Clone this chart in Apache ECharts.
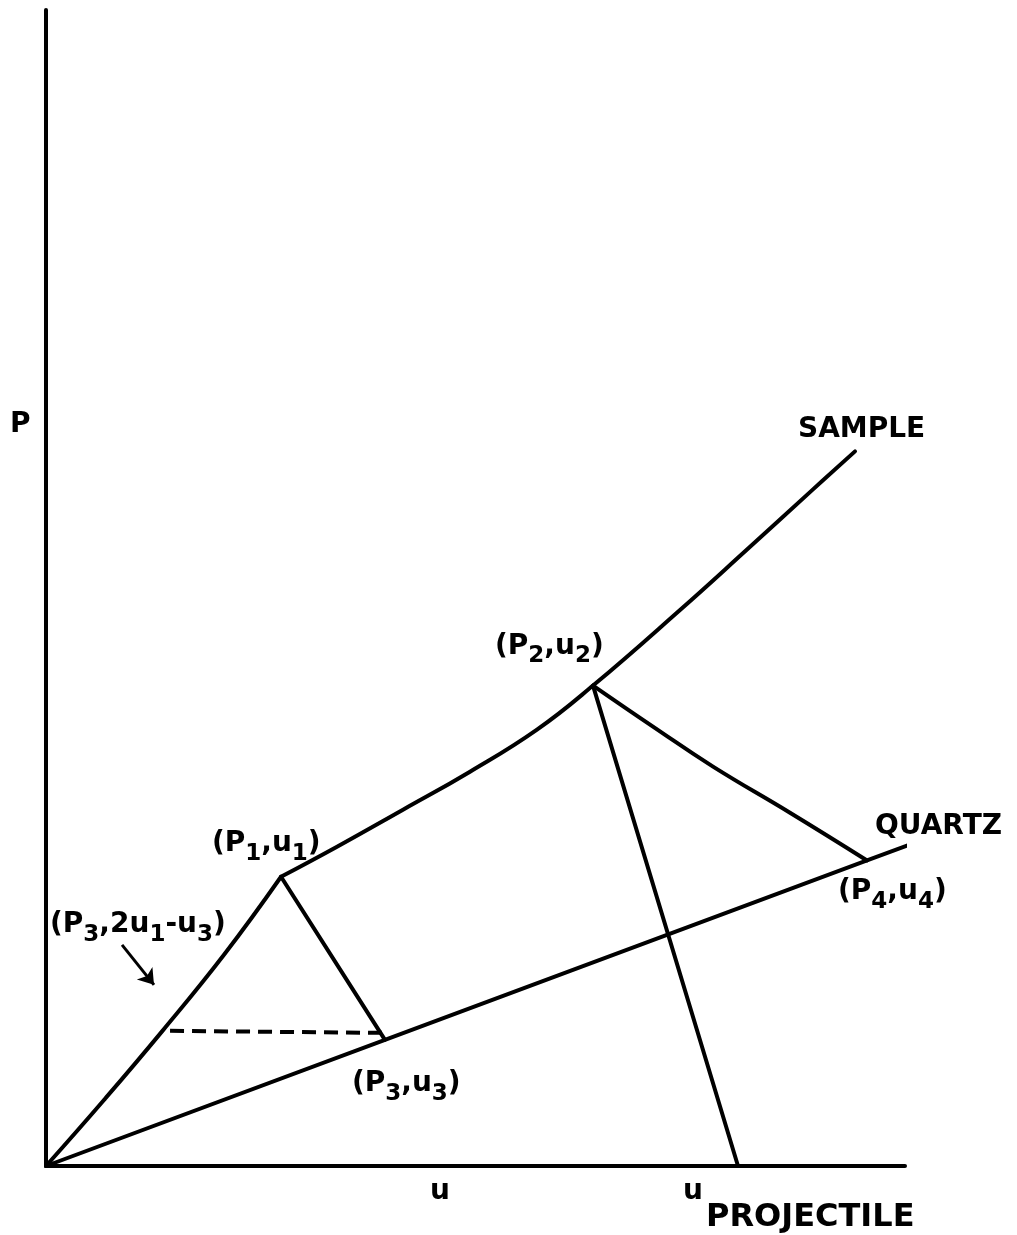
<!DOCTYPE html>
<html>
<head>
<meta charset="utf-8">
<title>P–u impedance match: sample and quartz</title>
<script src="https://cdn.jsdelivr.net/npm/echarts@6/dist/echarts.min.js"></script>
<style>
  html, body { margin: 0; padding: 0; background: #ffffff; }
  #chart { width: 1017px; height: 1235px; }
</style>
</head>
<body>
<div id="chart"></div>
<script>
// Particle velocity u (x) and pressure P (y), arbitrary units 0–100.

// Sample Hugoniot, lower branch: origin to (P1,u1)
const sampleLowU = [0, 6.75, 13.56, 20.72, 27.36];
const sampleLowP = [0, 5.71, 11.69, 18.27, 25.02];

// Sample Hugoniot, upper branch: (P1,u1) through (P2,u2) and beyond
const sampleHighU = [27.36, 33.88, 41.56, 49.36, 57.16, 63.68, 73.81, 81.61, 89.29, 94.18];
const sampleHighP = [25.02, 27.62, 30.82, 34.11, 37.75, 41.56, 48.10, 53.33, 58.53, 61.82];

// Quartz Hugoniot (straight line from the origin)
const quartzU = [0, 39.46, 95.58, 101.16];
const quartzP = [0, 10.91, 26.43, 27.97];

// Release from (P1,u1) down to (P3,u3)
const releaseU = [27.36, 39.46];
const releaseP = [25.02, 10.91];

// Constant-pressure construction at P3
const dashU = [14.44, 39.11];
const dashP = [11.69, 11.52];

// Projectile line through (P2,u2) to u_projectile
const projU = [63.68, 80.56];
const projP = [41.56, 0];

// Release from (P2,u2) to (P4,u4)
const release2U = [63.68, 70.66, 77.65, 86.61, 95.58];
const release2P = [41.56, 38.01, 34.55, 30.56, 26.43];

// Pointer to (P3, 2u1-u3)
const arrowU = [8.85, 12.57];
const arrowP = [19.13, 15.67];

// Text annotations: [u, P, text]
const annotations = [
  [19.32, 29.78, '{m|(P}{s|1}{m|,u}{s|1}{m|)}'],
  [52.27, 46.84, '{m|(P}{s|2}{m|,u}{s|2}{m|)}'],
  [35.62, 9.00, '{m|(P}{s|3}{m|,u}{s|3}{m|)}'],
  [92.20, 25.63, '{m|(P}{s|4}{m|,u}{s|4}{m|)}'],
  [0.47, 22.77, '{m|(P}{s|3}{m|,2u}{s|1}{m|-u}{s|3}{m|)}'],
  [87.54, 65.63, '{m|SAMPLE}'],
  [96.51, 31.26, '{m|QUARTZ}'],
  [-4.19, 66.06, '{m|P}'],
  [44.70, -0.35, '{m|u}'],
  [74.16, -0.35, '{m|u}'],
  [76.83, -2.60, '{b|PROJECTILE}']
];

const zip = (xs, ys) => xs.map((x, i) => [x, ys[i]]);

const INK = '#000000';
const FONT = 'DejaVu Sans';

function curve(name, xs, ys, extra) {
  return Object.assign({
    name: name,
    type: 'line',
    data: zip(xs, ys),
    showSymbol: false,
    symbol: 'none',
    clip: false,
    silent: true,
    lineStyle: { color: INK, width: 4, cap: 'round', join: 'round' }
  }, extra || {});
}

const chart = echarts.init(document.getElementById('chart'), null, { renderer: 'canvas' });

chart.setOption({
  backgroundColor: '#ffffff',
  animation: false,
  grid: { left: 46, right: 112, top: 10, bottom: 69, containLabel: false },
  xAxis: {
    type: 'value', min: 0, max: 100,
    axisLine: { show: true, lineStyle: { color: INK, width: 4 } },
    axisTick: { show: false }, axisLabel: { show: false }, splitLine: { show: false }
  },
  yAxis: {
    type: 'value', min: 0, max: 100,
    axisLine: { show: true, lineStyle: { color: INK, width: 4 } },
    axisTick: { show: false }, axisLabel: { show: false }, splitLine: { show: false }
  },
  series: [
    curve('Sample (lower)', sampleLowU, sampleLowP, { smooth: 0.45 }),
    curve('Sample (upper)', sampleHighU, sampleHighP, { smooth: 0.45 }),
    curve('Quartz', quartzU, quartzP),
    curve('Release 1', releaseU, releaseP),
    curve('P3 level', dashU, dashP, {
      lineStyle: { color: INK, width: 4, type: [14, 8], cap: 'butt' }
    }),
    curve('Projectile', projU, projP),
    curve('Release 2', release2U, release2P, { smooth: 0.45 }),
    {
      name: 'Pointer',
      type: 'lines',
      coordinateSystem: 'cartesian2d',
      silent: true,
      symbol: ['none', 'arrow'],
      symbolSize: 15,
      lineStyle: { color: INK, width: 3, opacity: 1 },
      data: [{ coords: zip(arrowU, arrowP) }]
    },
    {
      name: 'Labels',
      type: 'scatter',
      clip: false,
      silent: true,
      symbolSize: 0,
      itemStyle: { color: INK, opacity: 1 },
      data: annotations.map(a => ({ value: [a[0], a[1]], text: a[2] })),
      label: {
        show: true,
        position: [0, 0],
        align: 'left',
        verticalAlign: 'top',
        color: INK,
        opacity: 1,
        textBorderWidth: 0,
        formatter: p => p.data.text,
        rich: {
          m: {
            fontFamily: FONT, fontWeight: 'bold', fontSize: 28,
            lineHeight: 44, color: INK
          },
          s: {
            fontFamily: FONT, fontWeight: 'bold', fontSize: 23,
            lineHeight: 22, padding: [20, 0, 0, 0], color: INK
          },
          b: {
            fontFamily: FONT, fontWeight: 'bold', fontSize: 32,
            lineHeight: 44, color: INK
          }
        }
      }
    }
  ]
});
</script>
</body>
</html>
